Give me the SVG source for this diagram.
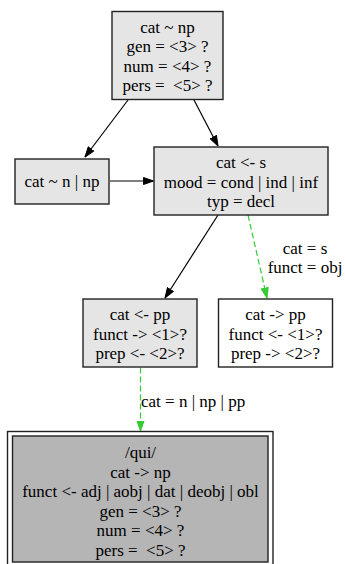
<svg xmlns="http://www.w3.org/2000/svg" width="345" height="564" viewBox="0 0 345 564">
<defs>
<style>
text{font-family:"Liberation Serif","Times New Roman",serif;font-size:17px;fill:#000;text-anchor:middle}
.box{stroke:#222;stroke-width:1.4;fill:#e5e5e5}
.white{fill:#fff}
.dark{fill:#b5b5b5}
.edge{stroke:#000;stroke-width:1.2;fill:none}
.green{stroke:#33cc33;stroke-width:1.2;fill:none;stroke-dasharray:6,3}
</style>
<marker id="ab" markerWidth="11" markerHeight="8" refX="10.5" refY="4" orient="auto" markerUnits="userSpaceOnUse"><path d="M0.5,0.5 L10.5,4 L0.5,7.5 z" fill="#000" stroke="#000" stroke-width="1"/></marker>
<marker id="ag" markerWidth="11" markerHeight="8" refX="10.5" refY="4" orient="auto" markerUnits="userSpaceOnUse"><path d="M0.5,0.5 L10.5,4 L0.5,7.5 z" fill="#33cc33" stroke="#33cc33" stroke-width="1"/></marker>
</defs>
<g id="edges">
<line class="edge" x1="128" y1="100" x2="85" y2="157" marker-end="url(#ab)"/>
<line class="edge" x1="194" y1="100" x2="218" y2="146" marker-end="url(#ab)"/>
<line class="edge" x1="110" y1="181" x2="153.5" y2="181" marker-end="url(#ab)"/>
<line class="edge" x1="218" y1="215" x2="165" y2="298" marker-end="url(#ab)"/>
<line class="green" x1="248" y1="215" x2="267" y2="298" marker-end="url(#ag)"/>
<line class="green" x1="140.5" y1="367.5" x2="140.5" y2="431" marker-end="url(#ag)"/>
<text x="305" y="254">cat = s</text>
<text x="305" y="273">funct = obj</text>
<text x="141" y="407" style="text-anchor:start">cat = n | np | pp</text>
</g>
<g id="n_top">
<rect class="box" x="112" y="11.5" width="111" height="88"/>
<text x="167.5" y="32.5">cat ~ np</text>
<text x="167.5" y="52">gen = &lt;3&gt; ?</text>
<text x="167.5" y="71.5">num = &lt;4&gt; ?</text>
<text x="167.5" y="91">pers = <tspan>&#160;</tspan>&lt;5&gt; ?</text>
</g>
<g id="n_left">
<rect class="box" x="15" y="159" width="94" height="45"/>
<text x="62" y="186.5">cat ~ n | np</text>
</g>
<g id="n_main">
<rect class="box" x="154" y="147" width="174" height="68"/>
<text x="241" y="168">cat &lt;- s</text>
<text x="241" y="187.5">mood = cond | ind | inf</text>
<text x="241" y="207">typ = decl</text>
</g>
<g id="n_pp">
<rect class="box" x="83" y="299" width="114" height="68"/>
<text x="140" y="320">cat &lt;- pp</text>
<text x="140" y="339.5">funct -&gt; &lt;1&gt;?</text>
<text x="140" y="359">prep &lt;- &lt;2&gt;?</text>
</g>
<g id="n_right">
<rect class="box white" x="218.5" y="299" width="114" height="68"/>
<text x="275.5" y="320">cat -&gt; pp</text>
<text x="275.5" y="339.5">funct &lt;- &lt;1&gt;?</text>
<text x="275.5" y="359">prep -&gt; &lt;2&gt;?</text>
</g>
<g id="n_qui">
<rect class="box white" x="7.5" y="431.5" width="265.5" height="136"/>
<rect class="box dark" x="12.5" y="436" width="255.5" height="126"/>
<text x="140.5" y="458">/qui/</text>
<text x="140.5" y="477.5">cat -&gt; np</text>
<text x="140.5" y="497">funct &lt;- adj | aobj | dat | deobj | obl</text>
<text x="140.5" y="516.5">gen = &lt;3&gt; ?</text>
<text x="140.5" y="536">num = &lt;4&gt; ?</text>
<text x="140.5" y="555.5">pers = <tspan>&#160;</tspan>&lt;5&gt; ?</text>
</g>
</svg>
